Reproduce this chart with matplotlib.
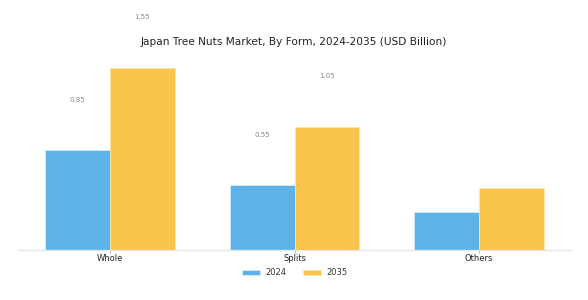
import matplotlib
matplotlib.use("Agg")
import matplotlib.pyplot as plt
import numpy as np

categories = ["Whole", "Splits", "Others"]
years = ["2024", "2035"]
values_2024 = [0.85, 0.55, 0.32]
values_2035 = [1.55, 1.05, 0.53]
labels_2024 = ["0.85", "0.55", None]
labels_2035 = ["1.55", "1.05", None]

colors = ["#5DB3E8", "#F9C34C"]

fig = plt.figure(figsize=(5.88, 3.0), dpi=100)
ax = fig.add_axes([0.031, 0.167, 0.94, 0.65])

x = np.arange(len(categories))
w = 0.35
ax.bar(x - w / 2, values_2024, w, color=colors[0], edgecolor="#DDEEF8", linewidth=0.5, label=years[0])
ax.bar(x + w / 2, values_2035, w, color=colors[1], edgecolor="#FCE6B0", linewidth=0.5, label=years[1])

for xi, v, lab in zip(x - w / 2, values_2024, labels_2024):
    if lab:
        ax.text(xi, v + 0.43, lab, ha="center", va="center", fontsize=5, color="#888888", clip_on=False)
for xi, v, lab in zip(x + w / 2, values_2035, labels_2035):
    if lab:
        ax.text(xi, v + 0.43, lab, ha="center", va="center", fontsize=5, color="#888888", clip_on=False)

ax.set_xlim(-0.4976, 2.498)
ax.set_ylim(0, 1.66)
ax.set_xticks(x)
ax.set_xticklabels(categories, fontsize=6, color="#222222")
ax.tick_params(axis="x", length=2.0, width=0.5, color="#999999", pad=0.8)
ax.set_yticks([])
for s in ["top", "right", "left"]:
    ax.spines[s].set_visible(False)
ax.spines["bottom"].set_color("#E5E5E5")
ax.spines["bottom"].set_linewidth(1.0)

fig.text(0.5, 0.86, "Japan Tree Nuts Market, By Form, 2024-2035 (USD Billion)",
         ha="center", va="center", fontsize=7.6, color="#222222")

leg = ax.legend(loc="upper center", bbox_to_anchor=(0.5, -0.055), ncol=2, frameon=False,
                fontsize=6, handlelength=2.2, handleheight=0.6, columnspacing=2.0, handletextpad=0.6)
for t in leg.get_texts():
    t.set_color("#333333")

fig.savefig("out.png", dpi=100)
